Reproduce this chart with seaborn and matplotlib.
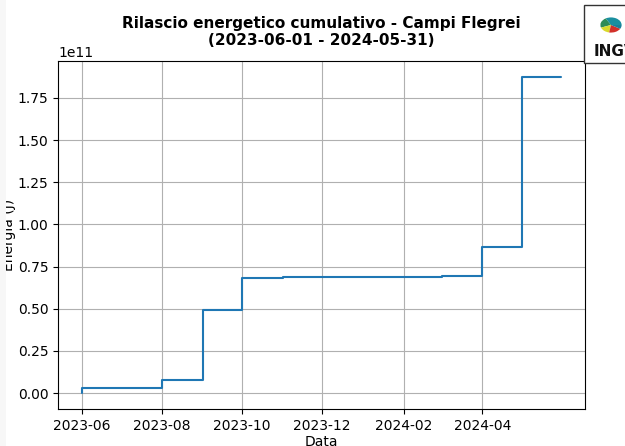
import numpy as np
import pandas as pd
import matplotlib
matplotlib.use("Agg")
import matplotlib.pyplot as plt
import matplotlib.dates as mdates
from matplotlib.patches import Rectangle, Wedge
import seaborn as sns

# valori cumulativi (in unità di 1e11 J), a gradini mensili
date = ["2023-06-01", "2023-07-01", "2023-08-01", "2023-09-01", "2023-10-01",
        "2023-11-01", "2023-12-01", "2024-01-01", "2024-02-01", "2024-03-01",
        "2024-04-01", "2024-05-01", "2024-05-31"]
energia_e11 = [0.0, 0.03, 0.03, 0.078, 0.495, 0.682, 0.688, 0.688, 0.688,
               0.690, 0.697, 0.864, 1.874]
tick_date = ["2023-06-01", "2023-08-01", "2023-10-01", "2023-12-01",
             "2024-02-01", "2024-04-01"]

df = pd.DataFrame({"Data": pd.to_datetime(date),
                   "Energia": np.array(energia_e11) * 1e11})

sns.set_style("ticks", rc={"text.color": "black", "axes.labelcolor": "black",
                           "xtick.color": "black", "ytick.color": "black",
                           "axes.edgecolor": "black"})
plt.rcParams['font.family'] = ['DejaVu Sans']

fig = plt.figure(figsize=(6.25, 4.46), dpi=100)
ax = fig.add_axes([0.0928, 0.083, 0.8432, 0.780])

sns.lineplot(data=df, x="Data", y="Energia", drawstyle="steps-pre",
             color="#1f77b4", linewidth=1.5, ax=ax)

ax.grid(True, color="#b0b0b0", linewidth=0.8)
for s in ax.spines.values():
    s.set_linewidth(0.8)
ax.tick_params(labelsize=10, length=3.5, width=0.8)

ax.set_xticks(pd.to_datetime(tick_date))
ax.xaxis.set_major_formatter(mdates.DateFormatter("%Y-%m"))
ax.set_yticks([0, 0.25e11, 0.5e11, 0.75e11, 1.0e11, 1.25e11, 1.5e11, 1.75e11])

ax.set_xlabel("Data", fontsize=10, labelpad=1.5)
ax.set_ylabel("Energia (J)", fontsize=10)
ax.yaxis.set_label_coords(-0.079, 0.5)

ax.set_title("Rilascio energetico cumulativo - Campi Flegrei\n(2023-06-01 - 2024-05-31)",
             fontsize=11, fontweight="bold", pad=11.5)

# bordo sinistro della pagina che copre in parte l'etichetta
fig.patches.append(Rectangle((0, 0), 6 / 625, 1, transform=fig.transFigure,
                             facecolor="#f7f7f7", edgecolor="none", zorder=10))

# riquadro logo INGV
fig.patches.append(Rectangle((584 / 625, 1 - 63 / 446), 0.2, 58 / 446,
                             transform=fig.transFigure, facecolor="white",
                             edgecolor="#333333", linewidth=1.0, zorder=5))
globo = [("#1a8fa0", 0, 120), ("#2e8b57", 120, 200), ("#d9d92b", 200, 260),
         ("#d2302a", 260, 330), ("#1a7f9a", 330, 360)]
for c, a1, a2 in globo:
    fig.patches.append(Wedge((611 / 625, 1 - 25 / 446), 0.017, a1, a2,
                             transform=fig.transFigure, facecolor=c,
                             edgecolor="none", zorder=6))
fig.text(594 / 625, 1 - 51 / 446, "INGV", fontsize=11, fontweight="bold",
         family="Liberation Sans Narrow", va="center", ha="left",
         color="#111111", zorder=7)

fig.savefig("out.png", dpi=100)
